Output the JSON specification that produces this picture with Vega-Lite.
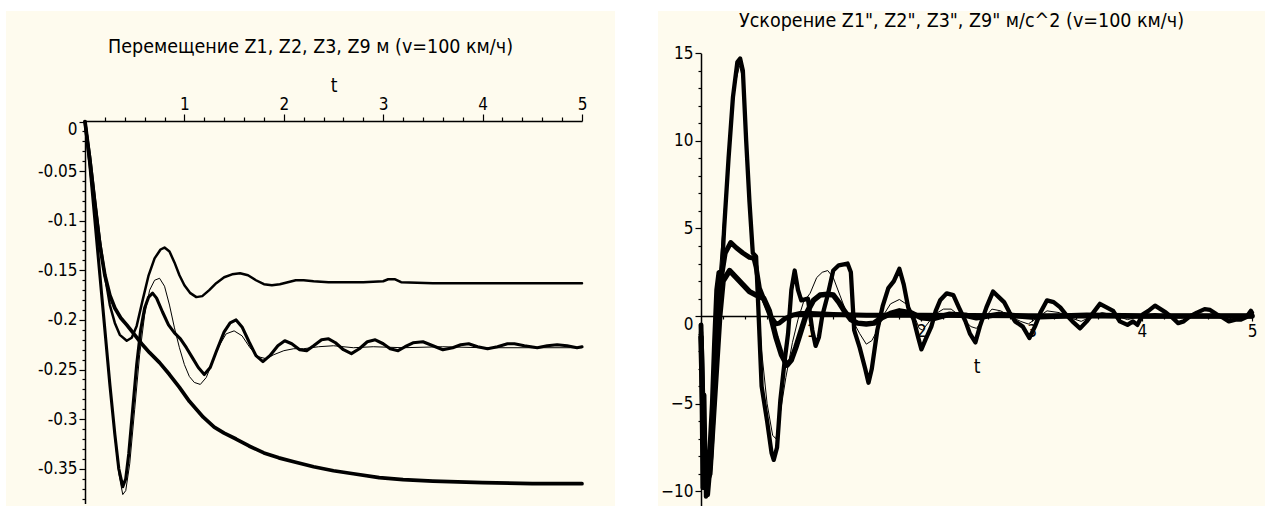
{
  "$schema": "https://vega.github.io/schema/vega-lite/v6.json",
  "background": "white",
  "padding": {"left": 6, "top": 10, "right": 0, "bottom": 0},
  "spacing": 43,
  "bounds": "flush",
  "config": {
    "view": {"fill": "#fefbee", "stroke": null},
    "font": "'Liberation Sans Narrow', 'DejaVu Sans Condensed', 'Liberation Sans', sans-serif",
    "axis": {"grid": false, "domainColor": "black", "tickColor": "black", "labelColor": "black", "titleColor": "black", "labelFont": "'Liberation Sans Narrow', 'DejaVu Sans Condensed', 'Liberation Sans', sans-serif", "titleFont": "'Liberation Sans Narrow', 'DejaVu Sans Condensed', 'Liberation Sans', sans-serif", "labelFontSize": 17, "titleFontSize": 19, "titleFontWeight": "normal", "domainWidth": 1.5, "tickWidth": 1.2, "zindex": 0, "labelFlush": false, "labelOverlap": false},
    "title": {"font": "'Liberation Sans Narrow', 'DejaVu Sans Condensed', 'Liberation Sans', sans-serif", "fontSize": 19.5, "fontWeight": "normal", "color": "black", "frame": "group", "anchor": "middle"}
  },
  "datasets": {
    "disp": [
      {"t":0,"z":0,"s":"A"},{"t":0.05,"z":-0.035,"s":"A"},{"t":0.1,"z":-0.078,"s":"A"},{"t":0.15,"z":-0.12,"s":"A"},{"t":0.2,"z":-0.155,"s":"A"},{"t":0.25,"z":-0.185,"s":"A"},{"t":0.3,"z":-0.203,"s":"A"},{"t":0.35,"z":-0.215,"s":"A"},{"t":0.42,"z":-0.221,"s":"A"},{"t":0.47,"z":-0.218,"s":"A"},{"t":0.52,"z":-0.206,"s":"A"},{"t":0.58,"z":-0.18,"s":"A"},{"t":0.64,"z":-0.155,"s":"A"},{"t":0.7,"z":-0.138,"s":"A"},{"t":0.76,"z":-0.129,"s":"A"},{"t":0.8,"z":-0.127,"s":"A"},{"t":0.85,"z":-0.131,"s":"A"},{"t":0.9,"z":-0.142,"s":"A"},{"t":0.95,"z":-0.155,"s":"A"},{"t":1.0,"z":-0.165,"s":"A"},{"t":1.06,"z":-0.173,"s":"A"},{"t":1.12,"z":-0.177,"s":"A"},{"t":1.18,"z":-0.176,"s":"A"},{"t":1.25,"z":-0.17,"s":"A"},{"t":1.32,"z":-0.163,"s":"A"},{"t":1.4,"z":-0.157,"s":"A"},{"t":1.48,"z":-0.154,"s":"A"},{"t":1.56,"z":-0.153,"s":"A"},{"t":1.64,"z":-0.155,"s":"A"},{"t":1.72,"z":-0.16,"s":"A"},{"t":1.8,"z":-0.164,"s":"A"},{"t":1.88,"z":-0.165,"s":"A"},{"t":1.96,"z":-0.164,"s":"A"},{"t":2.04,"z":-0.162,"s":"A"},{"t":2.12,"z":-0.16,"s":"A"},{"t":2.2,"z":-0.16,"s":"A"},{"t":2.3,"z":-0.161,"s":"A"},{"t":2.45,"z":-0.162,"s":"A"},{"t":2.6,"z":-0.162,"s":"A"},{"t":2.8,"z":-0.162,"s":"A"},{"t":3.0,"z":-0.161,"s":"A"},{"t":3.05,"z":-0.159,"s":"A"},{"t":3.12,"z":-0.159,"s":"A"},{"t":3.18,"z":-0.162,"s":"A"},{"t":3.5,"z":-0.163,"s":"A"},{"t":4.0,"z":-0.163,"s":"A"},{"t":4.5,"z":-0.163,"s":"A"},{"t":5.0,"z":-0.163,"s":"A"},
      {"t":0,"z":0,"s":"D"},{"t":0.05,"z":-0.04,"s":"D"},{"t":0.1,"z":-0.085,"s":"D"},{"t":0.15,"z":-0.125,"s":"D"},{"t":0.2,"z":-0.155,"s":"D"},{"t":0.25,"z":-0.175,"s":"D"},{"t":0.3,"z":-0.188,"s":"D"},{"t":0.36,"z":-0.198,"s":"D"},{"t":0.42,"z":-0.205,"s":"D"},{"t":0.5,"z":-0.215,"s":"D"},{"t":0.57,"z":-0.224,"s":"D"},{"t":0.65,"z":-0.233,"s":"D"},{"t":0.75,"z":-0.243,"s":"D"},{"t":0.85,"z":-0.255,"s":"D"},{"t":0.95,"z":-0.268,"s":"D"},{"t":1.05,"z":-0.282,"s":"D"},{"t":1.19,"z":-0.298,"s":"D"},{"t":1.3,"z":-0.308,"s":"D"},{"t":1.4,"z":-0.314,"s":"D"},{"t":1.52,"z":-0.32,"s":"D"},{"t":1.65,"z":-0.327,"s":"D"},{"t":1.8,"z":-0.334,"s":"D"},{"t":1.95,"z":-0.339,"s":"D"},{"t":2.1,"z":-0.343,"s":"D"},{"t":2.3,"z":-0.348,"s":"D"},{"t":2.5,"z":-0.352,"s":"D"},{"t":2.7,"z":-0.355,"s":"D"},{"t":2.96,"z":-0.359,"s":"D"},{"t":3.2,"z":-0.361,"s":"D"},{"t":3.5,"z":-0.3625,"s":"D"},{"t":4.0,"z":-0.364,"s":"D"},{"t":4.5,"z":-0.365,"s":"D"},{"t":5.0,"z":-0.365,"s":"D"},
      {"t":0,"z":0,"s":"B"},{"t":0.05,"z":-0.045,"s":"B"},{"t":0.1,"z":-0.1,"s":"B"},{"t":0.15,"z":-0.155,"s":"B"},{"t":0.2,"z":-0.21,"s":"B"},{"t":0.25,"z":-0.265,"s":"B"},{"t":0.3,"z":-0.315,"s":"B"},{"t":0.34,"z":-0.35,"s":"B"},{"t":0.38,"z":-0.368,"s":"B"},{"t":0.41,"z":-0.36,"s":"B"},{"t":0.44,"z":-0.335,"s":"B"},{"t":0.48,"z":-0.29,"s":"B"},{"t":0.52,"z":-0.245,"s":"B"},{"t":0.56,"z":-0.21,"s":"B"},{"t":0.6,"z":-0.188,"s":"B"},{"t":0.64,"z":-0.177,"s":"B"},{"t":0.68,"z":-0.173,"s":"B"},{"t":0.72,"z":-0.178,"s":"B"},{"t":0.78,"z":-0.192,"s":"B"},{"t":0.84,"z":-0.205,"s":"B"},{"t":0.9,"z":-0.213,"s":"B"},{"t":0.96,"z":-0.219,"s":"B"},{"t":1.02,"z":-0.228,"s":"B"},{"t":1.08,"z":-0.238,"s":"B"},{"t":1.14,"z":-0.248,"s":"B"},{"t":1.2,"z":-0.255,"s":"B"},{"t":1.26,"z":-0.248,"s":"B"},{"t":1.32,"z":-0.232,"s":"B"},{"t":1.4,"z":-0.212,"s":"B"},{"t":1.46,"z":-0.203,"s":"B"},{"t":1.52,"z":-0.2,"s":"B"},{"t":1.58,"z":-0.207,"s":"B"},{"t":1.65,"z":-0.222,"s":"B"},{"t":1.72,"z":-0.236,"s":"B"},{"t":1.79,"z":-0.242,"s":"B"},{"t":1.86,"z":-0.236,"s":"B"},{"t":1.94,"z":-0.226,"s":"B"},{"t":2.01,"z":-0.221,"s":"B"},{"t":2.08,"z":-0.224,"s":"B"},{"t":2.16,"z":-0.23,"s":"B"},{"t":2.23,"z":-0.231,"s":"B"},{"t":2.3,"z":-0.226,"s":"B"},{"t":2.38,"z":-0.22,"s":"B"},{"t":2.45,"z":-0.219,"s":"B"},{"t":2.52,"z":-0.223,"s":"B"},{"t":2.6,"z":-0.23,"s":"B"},{"t":2.68,"z":-0.234,"s":"B"},{"t":2.76,"z":-0.229,"s":"B"},{"t":2.84,"z":-0.222,"s":"B"},{"t":2.92,"z":-0.22,"s":"B"},{"t":3.0,"z":-0.224,"s":"B"},{"t":3.07,"z":-0.229,"s":"B"},{"t":3.15,"z":-0.231,"s":"B"},{"t":3.22,"z":-0.227,"s":"B"},{"t":3.3,"z":-0.223,"s":"B"},{"t":3.4,"z":-0.222,"s":"B"},{"t":3.5,"z":-0.226,"s":"B"},{"t":3.6,"z":-0.23,"s":"B"},{"t":3.7,"z":-0.228,"s":"B"},{"t":3.78,"z":-0.225,"s":"B"},{"t":3.86,"z":-0.224,"s":"B"},{"t":3.95,"z":-0.227,"s":"B"},{"t":4.05,"z":-0.229,"s":"B"},{"t":4.15,"z":-0.227,"s":"B"},{"t":4.25,"z":-0.224,"s":"B"},{"t":4.32,"z":-0.224,"s":"B"},{"t":4.42,"z":-0.226,"s":"B"},{"t":4.55,"z":-0.228,"s":"B"},{"t":4.65,"z":-0.226,"s":"B"},{"t":4.75,"z":-0.225,"s":"B"},{"t":4.85,"z":-0.226,"s":"B"},{"t":4.95,"z":-0.228,"s":"B"},{"t":5.0,"z":-0.227,"s":"B"},
      {"t":0,"z":0,"s":"C"},{"t":0.05,"z":-0.045,"s":"C"},{"t":0.1,"z":-0.1,"s":"C"},{"t":0.15,"z":-0.155,"s":"C"},{"t":0.2,"z":-0.21,"s":"C"},{"t":0.25,"z":-0.265,"s":"C"},{"t":0.3,"z":-0.318,"s":"C"},{"t":0.34,"z":-0.355,"s":"C"},{"t":0.38,"z":-0.376,"s":"C"},{"t":0.41,"z":-0.372,"s":"C"},{"t":0.45,"z":-0.345,"s":"C"},{"t":0.5,"z":-0.29,"s":"C"},{"t":0.55,"z":-0.235,"s":"C"},{"t":0.6,"z":-0.195,"s":"C"},{"t":0.65,"z":-0.17,"s":"C"},{"t":0.7,"z":-0.16,"s":"C"},{"t":0.75,"z":-0.158,"s":"C"},{"t":0.8,"z":-0.166,"s":"C"},{"t":0.85,"z":-0.185,"s":"C"},{"t":0.9,"z":-0.208,"s":"C"},{"t":0.95,"z":-0.228,"s":"C"},{"t":1.0,"z":-0.245,"s":"C"},{"t":1.05,"z":-0.257,"s":"C"},{"t":1.1,"z":-0.263,"s":"C"},{"t":1.16,"z":-0.265,"s":"C"},{"t":1.22,"z":-0.258,"s":"C"},{"t":1.28,"z":-0.243,"s":"C"},{"t":1.35,"z":-0.226,"s":"C"},{"t":1.42,"z":-0.214,"s":"C"},{"t":1.5,"z":-0.211,"s":"C"},{"t":1.58,"z":-0.216,"s":"C"},{"t":1.66,"z":-0.228,"s":"C"},{"t":1.74,"z":-0.237,"s":"C"},{"t":1.82,"z":-0.239,"s":"C"},{"t":1.9,"z":-0.235,"s":"C"},{"t":2.0,"z":-0.231,"s":"C"},{"t":2.1,"z":-0.229,"s":"C"},{"t":2.2,"z":-0.229,"s":"C"},{"t":2.35,"z":-0.227,"s":"C"},{"t":2.5,"z":-0.226,"s":"C"},{"t":2.7,"z":-0.228,"s":"C"},{"t":2.9,"z":-0.227,"s":"C"},{"t":3.2,"z":-0.228,"s":"C"},{"t":3.6,"z":-0.227,"s":"C"},{"t":4.0,"z":-0.228,"s":"C"},{"t":4.5,"z":-0.228,"s":"C"},{"t":5.0,"z":-0.228,"s":"C"}
    ],
    "acc": [
      {"t":0,"a":-0.9,"s":"P"},{"t":0.015,"a":-9.8,"s":"P"},{"t":0.03,"a":-4.5,"s":"P"},{"t":0.045,"a":-10.3,"s":"P"},{"t":0.07,"a":-8.5,"s":"P"},{"t":0.1,"a":-5,"s":"P"},{"t":0.12,"a":-1.5,"s":"P"},{"t":0.14,"a":1.5,"s":"P"},{"t":0.16,"a":2.5,"s":"P"},{"t":0.19,"a":2.6,"s":"P"},{"t":0.21,"a":5,"s":"P"},{"t":0.25,"a":9,"s":"P"},{"t":0.29,"a":12.5,"s":"P"},{"t":0.33,"a":14.5,"s":"P"},{"t":0.355,"a":14.7,"s":"P"},{"t":0.38,"a":14,"s":"P"},{"t":0.41,"a":10,"s":"P"},{"t":0.44,"a":6.5,"s":"P"},{"t":0.47,"a":3.6,"s":"P"},{"t":0.5,"a":3.4,"s":"P"},{"t":0.52,"a":0.5,"s":"P"},{"t":0.55,"a":-4,"s":"P"},{"t":0.6,"a":-6,"s":"P"},{"t":0.64,"a":-7.8,"s":"P"},{"t":0.66,"a":-8.2,"s":"P"},{"t":0.69,"a":-7.5,"s":"P"},{"t":0.72,"a":-4.8,"s":"P"},{"t":0.76,"a":-2.5,"s":"P"},{"t":0.79,"a":-1,"s":"P"},{"t":0.82,"a":1.5,"s":"P"},{"t":0.85,"a":2.6,"s":"P"},{"t":0.88,"a":1.5,"s":"P"},{"t":0.91,"a":0.9,"s":"P"},{"t":0.97,"a":1.0,"s":"P"},{"t":1.01,"a":-0.8,"s":"P"},{"t":1.04,"a":-1.7,"s":"P"},{"t":1.07,"a":-1.2,"s":"P"},{"t":1.1,"a":0,"s":"P"},{"t":1.15,"a":1.2,"s":"P"},{"t":1.2,"a":2.6,"s":"P"},{"t":1.25,"a":2.9,"s":"P"},{"t":1.33,"a":3.0,"s":"P"},{"t":1.36,"a":2.5,"s":"P"},{"t":1.39,"a":-0.8,"s":"P"},{"t":1.44,"a":-1.8,"s":"P"},{"t":1.49,"a":-3.0,"s":"P"},{"t":1.52,"a":-3.8,"s":"P"},{"t":1.55,"a":-3.0,"s":"P"},{"t":1.6,"a":-0.8,"s":"P"},{"t":1.65,"a":0.6,"s":"P"},{"t":1.7,"a":1.6,"s":"P"},{"t":1.75,"a":2.0,"s":"P"},{"t":1.8,"a":2.7,"s":"P"},{"t":1.84,"a":1.8,"s":"P"},{"t":1.88,"a":0.5,"s":"P"},{"t":1.93,"a":-0.2,"s":"P"},{"t":1.97,"a":-1.2,"s":"P"},{"t":2.0,"a":-1.9,"s":"P"},{"t":2.04,"a":-1.3,"s":"P"},{"t":2.09,"a":-0.6,"s":"P"},{"t":2.13,"a":0.3,"s":"P"},{"t":2.17,"a":0.9,"s":"P"},{"t":2.23,"a":1.3,"s":"P"},{"t":2.29,"a":1.2,"s":"P"},{"t":2.34,"a":0.5,"s":"P"},{"t":2.4,"a":-0.3,"s":"P"},{"t":2.44,"a":-1.0,"s":"P"},{"t":2.49,"a":-1.5,"s":"P"},{"t":2.53,"a":-0.6,"s":"P"},{"t":2.59,"a":0.5,"s":"P"},{"t":2.65,"a":1.4,"s":"P"},{"t":2.7,"a":1.1,"s":"P"},{"t":2.75,"a":0.8,"s":"P"},{"t":2.8,"a":0.2,"s":"P"},{"t":2.85,"a":-0.3,"s":"P"},{"t":2.92,"a":-0.6,"s":"P"},{"t":2.98,"a":-1.25,"s":"P"},{"t":3.03,"a":-0.6,"s":"P"},{"t":3.08,"a":0.2,"s":"P"},{"t":3.14,"a":0.9,"s":"P"},{"t":3.2,"a":0.8,"s":"P"},{"t":3.26,"a":0.5,"s":"P"},{"t":3.31,"a":0.1,"s":"P"},{"t":3.37,"a":-0.3,"s":"P"},{"t":3.44,"a":-0.7,"s":"P"},{"t":3.5,"a":-0.3,"s":"P"},{"t":3.56,"a":0.2,"s":"P"},{"t":3.62,"a":0.7,"s":"P"},{"t":3.68,"a":0.5,"s":"P"},{"t":3.74,"a":0.3,"s":"P"},{"t":3.8,"a":-0.3,"s":"P"},{"t":3.87,"a":-0.5,"s":"P"},{"t":3.92,"a":-0.3,"s":"P"},{"t":3.96,"a":-0.5,"s":"P"},{"t":4.01,"a":0.1,"s":"P"},{"t":4.06,"a":0.3,"s":"P"},{"t":4.12,"a":0.6,"s":"P"},{"t":4.17,"a":0.4,"s":"P"},{"t":4.22,"a":0.2,"s":"P"},{"t":4.28,"a":-0.1,"s":"P"},{"t":4.33,"a":-0.4,"s":"P"},{"t":4.38,"a":-0.3,"s":"P"},{"t":4.44,"a":0.0,"s":"P"},{"t":4.5,"a":0.2,"s":"P"},{"t":4.57,"a":0.4,"s":"P"},{"t":4.62,"a":0.35,"s":"P"},{"t":4.68,"a":0.1,"s":"P"},{"t":4.74,"a":-0.1,"s":"P"},{"t":4.79,"a":-0.3,"s":"P"},{"t":4.85,"a":-0.2,"s":"P"},{"t":4.9,"a":-0.2,"s":"P"},{"t":4.95,"a":-0.05,"s":"P"},{"t":4.99,"a":0.3,"s":"P"},{"t":5.0,"a":0.2,"s":"P"},
      {"t":0,"a":-0.5,"s":"Q"},{"t":0.03,"a":-8.5,"s":"Q"},{"t":0.06,"a":-10.2,"s":"Q"},{"t":0.09,"a":-8,"s":"Q"},{"t":0.12,"a":-4.5,"s":"Q"},{"t":0.15,"a":-1,"s":"Q"},{"t":0.18,"a":2.0,"s":"Q"},{"t":0.22,"a":3.6,"s":"Q"},{"t":0.27,"a":4.2,"s":"Q"},{"t":0.32,"a":3.9,"s":"Q"},{"t":0.38,"a":3.6,"s":"Q"},{"t":0.44,"a":3.35,"s":"Q"},{"t":0.48,"a":3.3,"s":"Q"},{"t":0.5,"a":2.8,"s":"Q"},{"t":0.53,"a":1.6,"s":"Q"},{"t":0.58,"a":0.8,"s":"Q"},{"t":0.63,"a":0.0,"s":"Q"},{"t":0.68,"a":-0.45,"s":"Q"},{"t":0.71,"a":-0.4,"s":"Q"},{"t":0.76,"a":-0.15,"s":"Q"},{"t":0.83,"a":0.05,"s":"Q"},{"t":0.9,"a":0.15,"s":"Q"},{"t":1.0,"a":0.15,"s":"Q"},{"t":1.2,"a":0.1,"s":"Q"},{"t":1.5,"a":0.05,"s":"Q"},{"t":2.0,"a":0.05,"s":"Q"},{"t":3.0,"a":0.02,"s":"Q"},{"t":4.0,"a":0.0,"s":"Q"},{"t":5.0,"a":0.0,"s":"Q"},
      {"t":0,"a":-1.2,"s":"R"},{"t":0.025,"a":-7.5,"s":"R"},{"t":0.05,"a":-9.5,"s":"R"},{"t":0.08,"a":-9,"s":"R"},{"t":0.11,"a":-6,"s":"R"},{"t":0.14,"a":-3,"s":"R"},{"t":0.17,"a":0,"s":"R"},{"t":0.2,"a":2.0,"s":"R"},{"t":0.26,"a":2.6,"s":"R"},{"t":0.32,"a":2.2,"s":"R"},{"t":0.38,"a":1.8,"s":"R"},{"t":0.44,"a":1.4,"s":"R"},{"t":0.5,"a":1.2,"s":"R"},{"t":0.57,"a":1.0,"s":"R"},{"t":0.62,"a":0.3,"s":"R"},{"t":0.68,"a":-1.2,"s":"R"},{"t":0.73,"a":-2.2,"s":"R"},{"t":0.78,"a":-2.8,"s":"R"},{"t":0.82,"a":-2.5,"s":"R"},{"t":0.86,"a":-1.8,"s":"R"},{"t":0.91,"a":-0.8,"s":"R"},{"t":0.96,"a":0.2,"s":"R"},{"t":1.02,"a":0.9,"s":"R"},{"t":1.08,"a":1.2,"s":"R"},{"t":1.15,"a":1.25,"s":"R"},{"t":1.2,"a":1.2,"s":"R"},{"t":1.25,"a":0.8,"s":"R"},{"t":1.3,"a":0.3,"s":"R"},{"t":1.36,"a":-0.2,"s":"R"},{"t":1.42,"a":-0.4,"s":"R"},{"t":1.5,"a":-0.45,"s":"R"},{"t":1.57,"a":-0.4,"s":"R"},{"t":1.64,"a":-0.1,"s":"R"},{"t":1.72,"a":0.15,"s":"R"},{"t":1.8,"a":0.3,"s":"R"},{"t":1.9,"a":0.2,"s":"R"},{"t":2.0,"a":-0.1,"s":"R"},{"t":2.1,"a":-0.15,"s":"R"},{"t":2.25,"a":0.1,"s":"R"},{"t":2.4,"a":0.05,"s":"R"},{"t":2.5,"a":-0.1,"s":"R"},{"t":2.7,"a":0.1,"s":"R"},{"t":3.0,"a":-0.05,"s":"R"},{"t":3.5,"a":0.05,"s":"R"},{"t":4.0,"a":0.0,"s":"R"},{"t":5.0,"a":0.0,"s":"R"},
      {"t":0,"a":-1,"s":"C"},{"t":0.02,"a":-8,"s":"C"},{"t":0.05,"a":-9.5,"s":"C"},{"t":0.08,"a":-7,"s":"C"},{"t":0.12,"a":-3,"s":"C"},{"t":0.16,"a":2,"s":"C"},{"t":0.2,"a":5,"s":"C"},{"t":0.25,"a":9.5,"s":"C"},{"t":0.3,"a":13,"s":"C"},{"t":0.35,"a":14.3,"s":"C"},{"t":0.38,"a":13.5,"s":"C"},{"t":0.42,"a":9.5,"s":"C"},{"t":0.46,"a":4.5,"s":"C"},{"t":0.5,"a":2.5,"s":"C"},{"t":0.55,"a":-2,"s":"C"},{"t":0.6,"a":-5,"s":"C"},{"t":0.65,"a":-6.8,"s":"C"},{"t":0.68,"a":-7,"s":"C"},{"t":0.72,"a":-5.5,"s":"C"},{"t":0.77,"a":-3.5,"s":"C"},{"t":0.83,"a":-1.5,"s":"C"},{"t":0.88,"a":-0.2,"s":"C"},{"t":0.93,"a":0.8,"s":"C"},{"t":0.99,"a":1.3,"s":"C"},{"t":1.05,"a":2.2,"s":"C"},{"t":1.1,"a":2.5,"s":"C"},{"t":1.15,"a":2.6,"s":"C"},{"t":1.2,"a":2.2,"s":"C"},{"t":1.26,"a":1.2,"s":"C"},{"t":1.32,"a":0.2,"s":"C"},{"t":1.38,"a":-0.3,"s":"C"},{"t":1.44,"a":-1.0,"s":"C"},{"t":1.5,"a":-1.6,"s":"C"},{"t":1.55,"a":-1.4,"s":"C"},{"t":1.6,"a":-0.8,"s":"C"},{"t":1.66,"a":0.1,"s":"C"},{"t":1.72,"a":0.7,"s":"C"},{"t":1.8,"a":0.95,"s":"C"},{"t":1.86,"a":0.7,"s":"C"},{"t":1.93,"a":0.1,"s":"C"},{"t":1.98,"a":-0.7,"s":"C"},{"t":2.01,"a":-0.8,"s":"C"},{"t":2.06,"a":-0.4,"s":"C"},{"t":2.12,"a":0.1,"s":"C"},{"t":2.2,"a":0.4,"s":"C"},{"t":2.27,"a":0.4,"s":"C"},{"t":2.35,"a":0.0,"s":"C"},{"t":2.45,"a":-0.6,"s":"C"},{"t":2.5,"a":-0.7,"s":"C"},{"t":2.56,"a":-0.2,"s":"C"},{"t":2.64,"a":0.4,"s":"C"},{"t":2.72,"a":0.3,"s":"C"},{"t":2.8,"a":0.0,"s":"C"},{"t":2.9,"a":-0.3,"s":"C"},{"t":2.97,"a":-0.45,"s":"C"},{"t":3.05,"a":-0.1,"s":"C"},{"t":3.14,"a":0.3,"s":"C"},{"t":3.25,"a":0.2,"s":"C"},{"t":3.35,"a":-0.1,"s":"C"},{"t":3.45,"a":-0.3,"s":"C"},{"t":3.55,"a":0.0,"s":"C"},{"t":3.64,"a":0.2,"s":"C"},{"t":3.75,"a":0.05,"s":"C"},{"t":3.87,"a":-0.2,"s":"C"},{"t":4.0,"a":0.0,"s":"C"},{"t":4.12,"a":0.15,"s":"C"},{"t":4.3,"a":-0.1,"s":"C"},{"t":4.55,"a":0.1,"s":"C"},{"t":4.8,"a":-0.1,"s":"C"},{"t":5.0,"a":0.0,"s":"C"}
    ]
  },
  "hconcat": [
    {
      "width": 609,
      "height": 496,
      "title": {"text": "Перемещение Z1, Z2, Z3, Z9 м (v=100 км/ч)", "offset": -46},
      "data": {"name": "disp"},
      "layer": [
        {
          "transform": [{"filter": "datum.s != 'C'"}],
          "mark": {"type": "line", "color": "black", "strokeJoin": "round", "strokeCap": "round"},
          "encoding": {
            "x": {"field": "t", "type": "quantitative", "scale": {"domain": [0, 5], "range": [79, 576], "nice": false, "zero": false},
              "axis": {"orient": "top", "offset": -110, "values": [1, 2, 3, 4, 5], "tickSize": 7, "labelPadding": 1, "title": "t", "titlePadding": 0}},
            "y": {"field": "z", "type": "quantitative", "scale": {"domain": [-0.385, 0], "range": [492.5, 110.5], "nice": false, "zero": false},
              "axis": {"orient": "left", "offset": -79, "values": [0, -0.05, -0.1, -0.15, -0.2, -0.25, -0.3, -0.35], "tickSize": 6, "labelPadding": 2, "labelExpr": "'' + datum.value", "title": null,
                "labelBaseline": {"condition": {"test": "datum.value == 0", "value": "top"}, "value": "middle"}}},
            "detail": {"field": "s", "type": "nominal"},
            "strokeWidth": {"field": "s", "type": "nominal", "scale": {"domain": ["A", "B", "D"], "range": [2.5, 5.5, 3]}, "legend": null}
          }
        },
        {
          "transform": [{"filter": "datum.s == 'C'"}],
          "mark": {"type": "line", "color": "black", "strokeWidth": 1},
          "encoding": {
            "x": {"field": "t", "type": "quantitative", "scale": {"domain": [0, 5], "range": [79, 576], "nice": false, "zero": false},
              "axis": {"orient": "top", "offset": -110, "values": [0.2, 0.4, 0.6, 0.8, 1.2, 1.4, 1.6, 1.8, 2.2, 2.4, 2.6, 2.8, 3.2, 3.4, 3.6, 3.8, 4.2, 4.4, 4.6, 4.8], "tickSize": 4, "labels": false, "domain": false, "title": null}},
            "y": {"field": "z", "type": "quantitative", "scale": {"domain": [-0.385, 0], "range": [492.5, 110.5], "nice": false, "zero": false},
              "axis": {"orient": "left", "offset": -79, "values": [-0.01, -0.02, -0.03, -0.04, -0.06, -0.07, -0.08, -0.09, -0.11, -0.12, -0.13, -0.14, -0.16, -0.17, -0.18, -0.19, -0.21, -0.22, -0.23, -0.24, -0.26, -0.27, -0.28, -0.29, -0.31, -0.32, -0.33, -0.34, -0.36, -0.37, -0.38], "tickSize": 3, "labels": false, "domain": false, "title": null}}
          }
        }
      ],
      "resolve": {"axis": {"x": "independent", "y": "independent"}}
    },
    {
      "width": 607,
      "height": 496,
      "title": {"text": "Ускорение Z1\", Z2\", Z3\", Z9\" м/с^2 (v=100 км/ч)", "offset": -20},
      "data": {"name": "acc"},
      "layer": [
        {
          "transform": [{"filter": "datum.s != 'C'"}],
          "mark": {"type": "line", "color": "black", "strokeJoin": "round", "strokeCap": "round"},
          "encoding": {
            "x": {"field": "t", "type": "quantitative", "scale": {"domain": [0, 5], "range": [43, 594], "nice": false, "zero": false},
              "axis": {"orient": "bottom", "offset": -191, "values": [1, 2, 3, 4, 5], "tickSize": 5, "labelPadding": 2, "title": "t", "titlePadding": 18}},
            "y": {"field": "a", "type": "quantitative", "scale": {"domain": [-10.8, 15], "range": [494.4, 42.2], "nice": false, "zero": false},
              "axis": {"orient": "left", "offset": -43, "values": [15, 10, 5, 0, -5, -10], "tickSize": 6, "labelPadding": 2, "title": null,
                "labelBaseline": {"condition": {"test": "datum.value == 0", "value": "top"}, "value": "middle"}}},
            "detail": {"field": "s", "type": "nominal"},
            "strokeWidth": {"field": "s", "type": "nominal", "scale": {"domain": ["P", "Q", "R"], "range": [5.5, 1.8, 2.6]}, "legend": null}
          }
        },
        {
          "transform": [{"filter": "datum.s == 'C'"}],
          "mark": {"type": "line", "color": "black", "strokeWidth": 1},
          "encoding": {
            "x": {"field": "t", "type": "quantitative", "scale": {"domain": [0, 5], "range": [43, 594], "nice": false, "zero": false},
              "axis": {"orient": "bottom", "offset": -191, "values": [0.2, 0.4, 0.6, 0.8, 1.2, 1.4, 1.6, 1.8, 2.2, 2.4, 2.6, 2.8, 3.2, 3.4, 3.6, 3.8, 4.2, 4.4, 4.6, 4.8], "tickSize": 3, "labels": false, "domain": false, "title": null}},
            "y": {"field": "a", "type": "quantitative", "scale": {"domain": [-10.8, 15], "range": [494.4, 42.2], "nice": false, "zero": false},
              "axis": {"orient": "left", "offset": -43, "values": [14, 13, 12, 11, 9, 8, 7, 6, 4, 3, 2, 1, -1, -2, -3, -4, -6, -7, -8, -9], "tickSize": 3, "labels": false, "domain": false, "title": null}}
          }
        }
      ],
      "resolve": {"axis": {"x": "independent", "y": "independent"}}
    }
  ]
}
